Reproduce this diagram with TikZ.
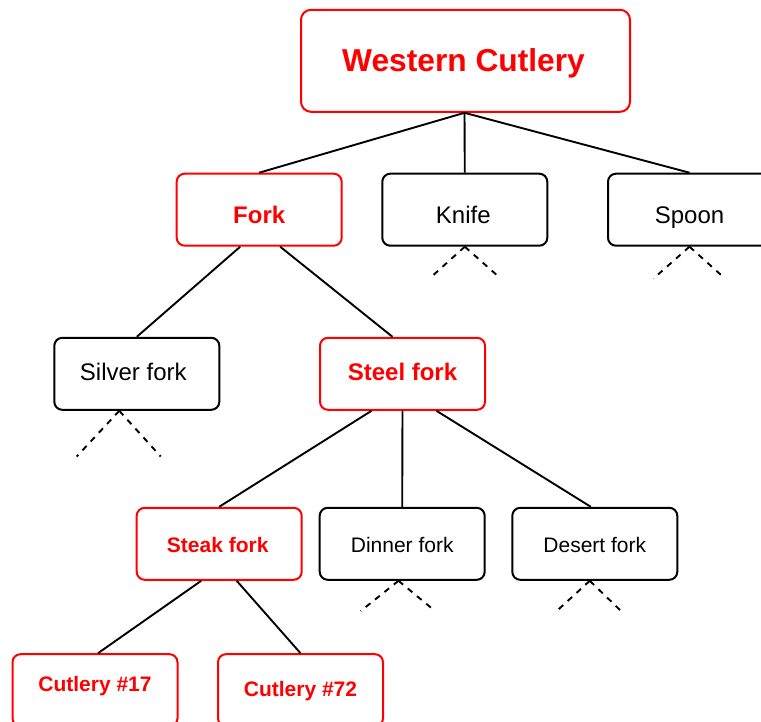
\documentclass[tikz,border=0pt]{standalone}
\usepackage{fontspec}
\setmainfont{Liberation Sans}
\begin{document}
\begin{tikzpicture}[x=1pt,y=-1pt,
  box/.style={line width=2pt, rounded corners=8pt, minimum width=165pt,
    minimum height=72pt, inner sep=0pt, text depth=0pt, fill=white},
  hot/.style={box, draw=red, text=red, execute at begin node={\bfseries}},
  plain/.style={box, draw=black, text=black},
  fsA/.style={font=\fontsize{24}{28}\selectfont},
  fsB/.style={font=\fontsize{21}{25}\selectfont},
  edge/.style={line width=1.9pt},
  more/.style={line width=1.9pt, dash pattern=on 6pt off 6pt},
]
\useasboundingbox (0,0) rectangle (761,721);
\clip (0,0) rectangle (761,721);

% category boxes
\node[hot, minimum width=329pt, minimum height=102pt, rounded corners=10pt,
  font=\fontsize{31.7}{36}\selectfont, text height=21pt] (western) at (465.5,60.8) {Western Cutlery\kern4pt};
\node[hot, fsA, text height=27.2pt] (fork) at (259.2,209.7) {Fork};
\node[plain, fsA, text height=27.2pt] (knife) at (464.8,209.7) {Knife\kern3pt};
\node[plain, fsA, text height=27.2pt] (spoon) at (690.5,209.7) {Spoon\kern2pt};
\node[plain, fsA, text height=12.4pt] (silver) at (136.8,373.8) {Silver fork\kern7pt};
\node[hot, fsA, text height=14pt] (steel) at (402.5,373.8) {Steel fork};
\node[hot, fsB, text height=17pt] (steak) at (219.2,543.8) {Steak fork\kern3pt};
\node[plain, fsB, text height=17pt] (dinner) at (402.2,543.8) {Dinner fork};
\node[plain, fsB, text height=17pt] (desert) at (594.8,543.8) {Desert fork};
\node[hot, fsB, text height=1.6pt] (c17) at (95,690.2) {Cutlery \#17};
\node[hot, fsB, text height=11.6pt] (c72) at (300.5,690.2) {Cutlery \#72};

% hierarchy links
\draw[edge] ([xshift=-1pt]western.south) -- (fork.north);
\draw[edge] ([xshift=-1pt]western.south) -- (knife.north);
\draw[edge] ([xshift=-1pt]western.south) -- ([xshift=-1pt]spoon.north);
\draw[edge] ([xshift=-19pt]fork.south) -- (silver.north);
\draw[edge] ([xshift=21pt]fork.south) -- ([xshift=-10pt]steel.north);
\draw[edge] ([xshift=-31pt]steel.south) -- (steak.north);
\draw[edge] (steel.south) -- (dinner.north);
\draw[edge] ([xshift=34pt]steel.south) -- ([xshift=-4pt]desert.north);
\draw[edge] ([xshift=-18pt]steak.south) -- ([xshift=3pt]c17.north);
\draw[edge] ([xshift=17.5pt]steak.south) -- (c72.north);

% open-ended branches
\coordinate (knifeL) at (429.5,278.5);
\coordinate (knifeR) at (500.7,278.5);
\coordinate (spoonL) at (653.5,278.5);
\coordinate (spoonR) at (725,278.5);
\coordinate (silverL) at (76.7,456.5);
\coordinate (silverR) at (160.7,456.5);
\coordinate (dinnerL) at (360.7,611);
\coordinate (dinnerR) at (435,611);
\coordinate (desertL) at (556.7,611);
\coordinate (desertR) at (621,611);

\draw[more] (knife.south) -- (knifeL);
\draw[more] (knife.south) -- (knifeR);
\draw[more] ([xshift=-1pt]spoon.south) -- (spoonL);
\draw[more] ([xshift=-1pt]spoon.south) -- (spoonR);
\draw[more] ([xshift=-17.5pt]silver.south) -- (silverL);
\draw[more] ([xshift=-17.5pt]silver.south) -- (silverR);
\draw[more] ([xshift=-3.7pt]dinner.south) -- (dinnerL);
\draw[more] ([xshift=-3.7pt]dinner.south) -- (dinnerR);
\draw[more] ([xshift=-5pt]desert.south) -- (desertL);
\draw[more] ([xshift=-5pt]desert.south) -- (desertR);
\end{tikzpicture}
\end{document}
